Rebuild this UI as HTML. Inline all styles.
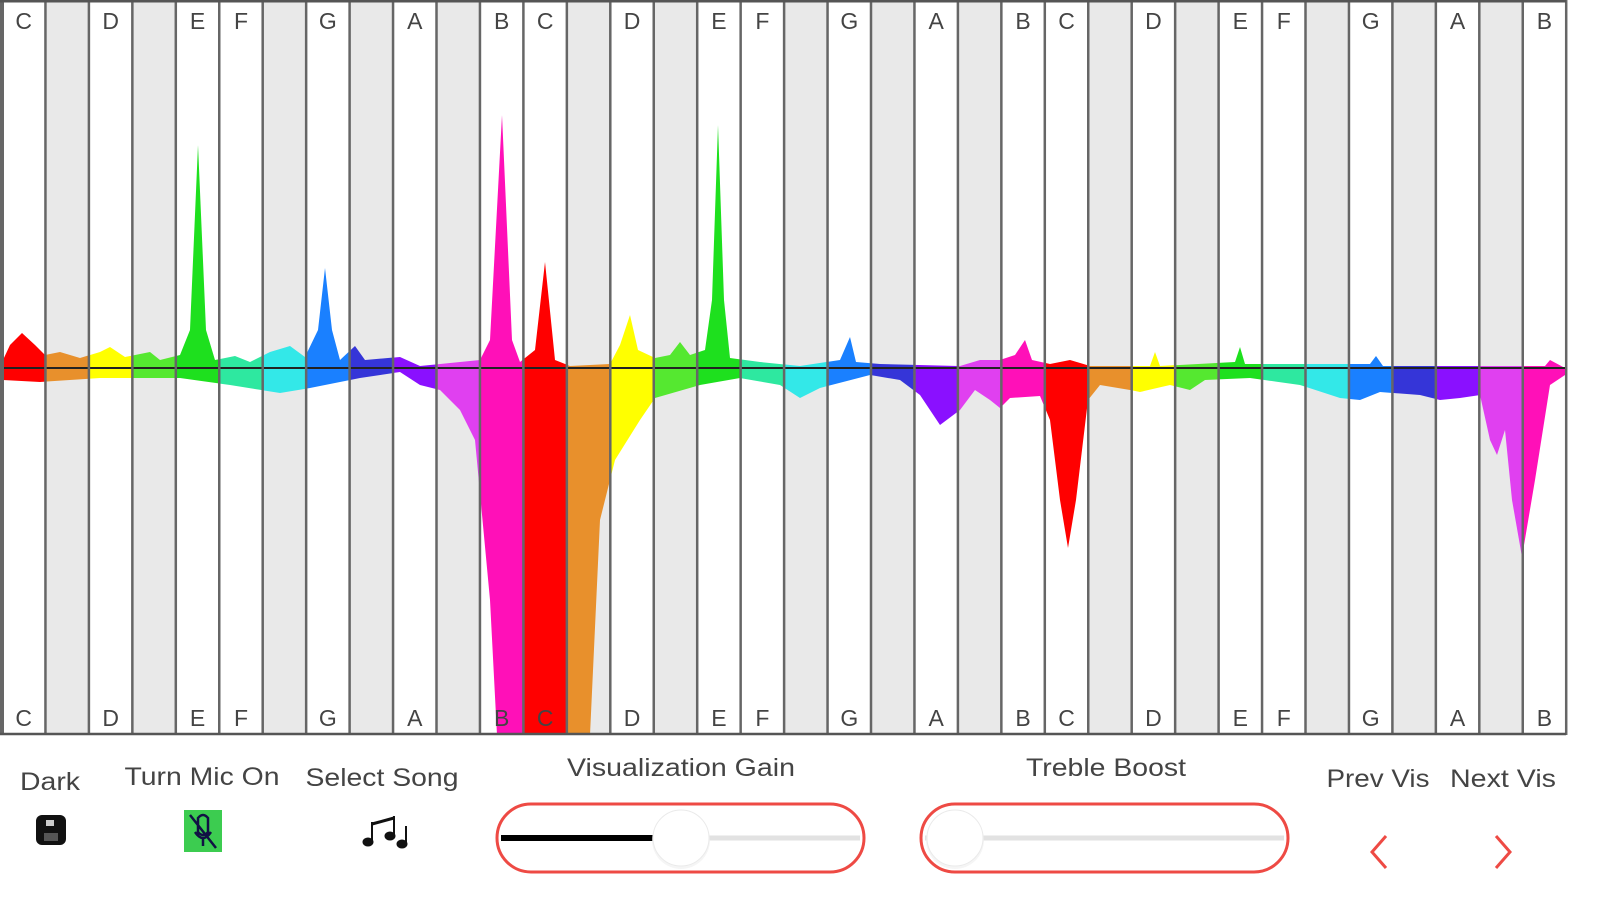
<!DOCTYPE html>
<html><head><meta charset="utf-8"><style>
html,body{margin:0;padding:0;background:#fff;width:1599px;height:900px;overflow:hidden;font-family:"Liberation Sans",sans-serif}
svg{display:block}
</style></head><body>
<svg id="s" width="1599" height="900" xmlns="http://www.w3.org/2000/svg"></svg>
<script>
(function(){
const s=document.getElementById('s');
const W=43.45,X0=2,N=36;
const names=['C','','D','','E','F','','G','','A','','B'];
const cols=['#ff0000','#e8902c','#ffff00','#55e830','#1ee01e','#2ee8a0','#33e8e8','#1a80ff','#3535d8','#8a10ff','#e040f0','#ff10b8'];
const grey=[1,3,6,8,10];
const upper=[[3,360],[10,345],[22,333],[35,345],[45,355],[60,352],[80,358],[100,352],[110,347],[125,357],[150,352],[160,360],[180,355],[190,330],[198,145],[206,330],[215,360],[235,356],[250,362],[270,352],[290,346],[305,357],[318,330],[325,268],[332,330],[340,360],[355,346],[365,360],[400,357],[420,366],[460,362],[480,360],[490,340],[502,115],[512,340],[520,362],[535,350],[545,262],[555,360],[570,366],[610,364],[620,345],[630,315],[638,350],[655,358],[670,355],[680,342],[690,355],[705,350],[712,300],[718,125],[724,300],[730,358],[760,362],[800,366],[840,360],[850,337],[856,362],[880,364],[960,366],[980,360],[1000,360],[1015,355],[1025,340],[1032,360],[1050,364],[1070,360],[1090,366],[1150,366],[1155,352],[1160,366],[1235,362],[1240,347],[1245,364],[1370,364],[1376,356],[1383,366],[1545,366],[1550,360],[1565,368]];
const lower=[[3,380],[40,382],[100,378],[180,378],[230,385],[280,393],[310,388],[360,378],[400,372],[420,385],[440,390],[460,410],[475,440],[490,600],[497,735],[590,735],[600,520],[615,460],[640,420],[655,398],[700,385],[740,378],[780,385],[800,398],[820,388],[870,375],[900,380],[920,395],[940,425],[960,410],[975,390],[990,400],[1000,408],[1010,398],[1040,396],[1050,420],[1060,500],[1068,548],[1076,500],[1088,400],[1100,385],[1130,390],[1140,392],[1170,385],[1190,390],[1205,380],[1250,378],[1300,385],[1340,398],[1360,400],[1380,392],[1420,395],[1440,400],[1460,398],[1480,395],[1490,440],[1497,455],[1505,430],[1512,500],[1522,557],[1535,480],[1550,385],[1565,375]];
const pts=upper.concat(lower.slice().reverse()).map(p=>p.join(',')).join(' ');
let h='<defs>';
for(let i=0;i<N;i++)h+=`<clipPath id="c${i}"><rect x="${X0+i*W}" y="0" width="${W}" height="735"/></clipPath>`;
h+='</defs>';
for(let i=0;i<N;i++){const n=i%12;h+=`<rect x="${X0+i*W}" y="0" width="${W}" height="735" fill="${grey.includes(n)?'#e9e9e9':'#fff'}"/>`;}
for(let i=0;i<N;i++){h+=`<polygon points="${pts}" fill="${cols[i%12]}" clip-path="url(#c${i})"/>`;}
h+='<line x1="2" y1="368" x2="1566" y2="368" stroke="#222" stroke-width="2"/>';
for(let i=0;i<=N;i++){h+=`<line x1="${X0+i*W}" y1="0" x2="${X0+i*W}" y2="735" stroke="#666" stroke-width="${i==0?4:2.5}"/>`;}
h+='<line x1="0" y1="1" x2="1566" y2="1" stroke="#555" stroke-width="3"/><line x1="0" y1="734" x2="1566" y2="734" stroke="#555" stroke-width="2.5"/>';
for(let i=0;i<N;i++){const t=names[i%12];if(!t)continue;const cx=X0+i*W+W/2;
h+=`<text x="${cx}" y="29" font-size="23" fill="#444" text-anchor="middle">${t}</text><text x="${cx}" y="726" font-size="23" fill="#444" text-anchor="middle">${t}</text>`;}
const lab=(x,y,t,w)=>`<text x="${x-w/2}" y="${y}" font-size="25" fill="#444" textLength="${w}" lengthAdjust="spacingAndGlyphs">${t}</text>`;
h+=lab(50,790,'Dark',60)+lab(202,785,'Turn Mic On',155)+lab(382,786,'Select Song',153)+lab(681,776,'Visualization Gain',228)+lab(1106,776,'Treble Boost',160)+lab(1378,787,'Prev Vis',103)+lab(1503,787,'Next Vis',106);
h+='<rect x="36" y="815" width="30" height="30" rx="6" fill="#111"/><rect x="46" y="820" width="8" height="6" fill="#ccc"/><rect x="44" y="833" width="14" height="8" fill="#555"/>';
h+='<rect x="184" y="810" width="38" height="42" fill="#3ccc50"/><path d="M190 815 L216 848 M198 818 q5 -6 10 0 v14 q-5 6 -10 0z M195 832 q8 12 16 0 M203 838 v8" stroke="#114" stroke-width="2.5" fill="none"/>';
h+='<g fill="#111" stroke="#111"><ellipse cx="368" cy="842" rx="5" ry="4"/><ellipse cx="390" cy="836" rx="5" ry="4"/><ellipse cx="402" cy="844" rx="5" ry="4"/><path d="M372 842 V822 M394 836 V816 M406 844 V826" stroke-width="2"/><path d="M372 824 L394 818" stroke-width="3"/></g>';
const slider=(x1,x2,tx,fill)=>{let r=`<rect x="${x1}" y="804" width="${x2-x1}" height="68" rx="34" fill="#fff" stroke="#ee4a44" stroke-width="3"/>`;
r+=`<line x1="${x1+4}" y1="838" x2="${x2-4}" y2="838" stroke="#e2e2e2" stroke-width="5"/>`;
if(fill)r+=`<line x1="${x1+4}" y1="838" x2="${tx}" y2="838" stroke="#000" stroke-width="6"/>`;
r+=`<circle cx="${tx}" cy="840" r="29" fill="#eee" opacity="0.6"/><circle cx="${tx}" cy="838" r="28" fill="#fff" stroke="#eaeaea" stroke-width="1"/>`;return r;};
h+=slider(497,864,681,true)+slider(921,1288,955,false);
h+='<path d="M1386 836 L1372 852 L1386 868" stroke="#ee4a44" stroke-width="3" fill="none"/><path d="M1496 836 L1510 852 L1496 868" stroke="#ee4a44" stroke-width="3" fill="none"/>';
s.innerHTML=h;
})();
</script>
</body></html>
